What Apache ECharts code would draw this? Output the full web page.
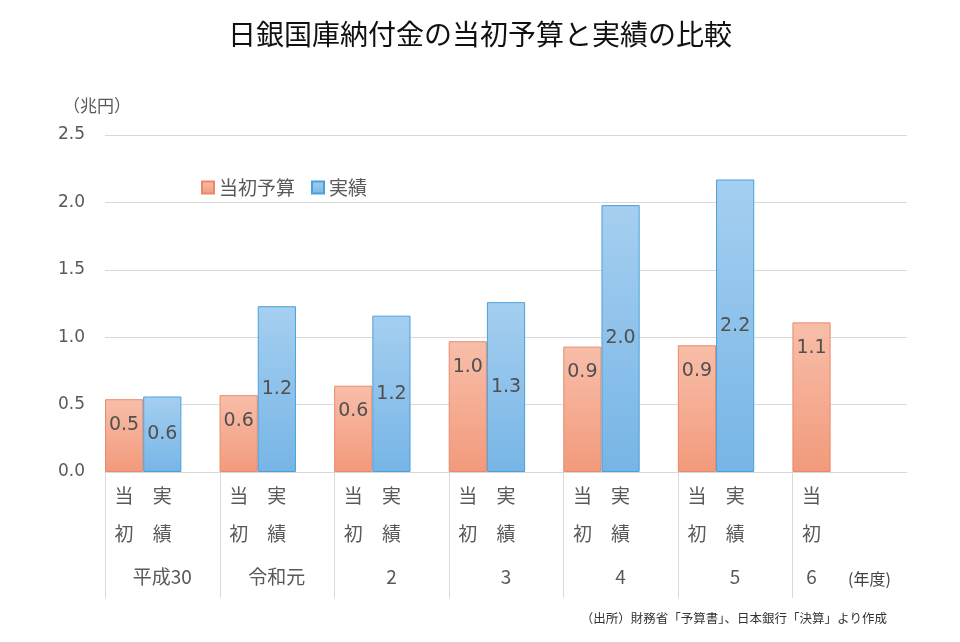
<!DOCTYPE html>
<html><head><meta charset="utf-8">
<script src="https://cdn.jsdelivr.net/npm/echarts@6/dist/echarts.min.js"></script>
<style>html,body{margin:0;padding:0;background:#fff}#c{width:960px;height:642px}</style>
</head><body><div id="c"></div>
<script>
// ---- data ----
const years = ['平成30', '令和元', '2', '3', '4', '5', '6'];
const budget = [0.54, 0.57, 0.64, 0.97, 0.93, 0.94, 1.11];   // 当初予算 (兆円)
const actual = [0.56, 1.23, 1.16, 1.26, 1.98, 2.17, null];   // 実績 (兆円)
const seriesNames = ['当初予算', '実績'];
const budgetLabel = ['当', '初'];
const actualLabel = ['実', '績'];
const yMin = 0, yMax = 2.5, yStep = 0.5;

// ---- build 3 slots per fiscal year (budget, actual, gap) ----
const slotNames = [], slotLabels = [], budgetSlots = [], actualSlots = [], groupStarts = [];
years.forEach((y, i) => {
  const hasA = actual[i] != null;
  groupStarts.push([i * 3]);
  slotNames.push(i + '-b', i + '-a', i + '-g');
  slotLabels.push('{a|' + budgetLabel[0] + '}\n{a|' + budgetLabel[1] + '}' + (hasA ? '' : '\n{b|' + y + '}'));
  slotLabels.push(hasA ? '{a|' + actualLabel[0] + '}\n{a|' + actualLabel[1] + '}\n{b|' + y + '}' : '');
  slotLabels.push('');
  budgetSlots.push(budget[i], '-', '-');
  actualSlots.push('-', hasA ? actual[i] : '-', '-');
});

const FONT_CJK = '"Noto Sans CJK JP", sans-serif';
const FONT_NUM = '"DejaVu Sans", sans-serif';

const grad = (top, bottom) => new echarts.graphic.LinearGradient(0, 0, 0, 1, [
  { offset: 0, color: top }, { offset: 1, color: bottom }
]);

const chart = echarts.init(document.getElementById('c'), null, { renderer: 'canvas' });
chart.setOption({
  backgroundColor: '#fff',
  animation: false,
  title: [
    { text: '日銀国庫納付金の当初予算と実績の比較', left: 'center', top: 15,
      textStyle: { fontFamily: FONT_CJK, fontSize: 28, fontWeight: 'normal', color: '#111' } },
    { text: '（兆円）', left: 58, top: 92,
      textStyle: { fontFamily: FONT_CJK, fontSize: 17, fontWeight: 'normal', color: '#595959' } },
    { text: '(年度)', left: 843, top: 566,
      textStyle: { fontFamily: FONT_CJK, fontSize: 16, fontWeight: 'normal', color: '#404040' } },
    { text: '（出所）財務省「予算書」、日本銀行「決算」より作成', right: 68, top: 607,
      textStyle: { fontFamily: FONT_CJK, fontSize: 12.5, fontWeight: 'normal', color: '#333' } }
  ],
  legend: {
    left: 196, top: 173, itemWidth: 12, itemHeight: 12, itemGap: 16, icon: 'rect',
    data: seriesNames,
    textStyle: { fontFamily: FONT_CJK, fontSize: 19, color: '#595959' }
  },
  grid: { left: 105, right: 53, top: 135, bottom: 170 },
  xAxis: {
    type: 'category',
    data: slotNames,
    axisLine: { show: true, lineStyle: { color: '#d9d9d9', width: 1 } },
    axisTick: { show: false },
    axisLabel: {
      interval: 0, margin: 5,
      formatter: (v, i) => slotLabels[i],
      rich: {
        a: { fontFamily: FONT_CJK, fontSize: 19, lineHeight: 38, color: '#595959' },
        b: { fontFamily: FONT_CJK, fontSize: 19, lineHeight: 48, color: '#595959' }
      }
    },
    splitLine: { show: false }
  },
  yAxis: {
    type: 'value', min: yMin, max: yMax, interval: yStep,
    axisLine: { show: false }, axisTick: { show: false },
    axisLabel: { margin: 20, formatter: (v) => v.toFixed(1),
      fontFamily: FONT_NUM, fontSize: 17, color: '#595959' },
    splitLine: { lineStyle: { color: '#d9d9d9', width: 1 } }
  },
  series: [
    {
      name: seriesNames[0], type: 'bar', data: budgetSlots,
      barCategoryGap: '0%', barGap: '-100%',
      itemStyle: { color: grad('#f8bea9', '#f29a7b'), borderColor: '#e9896a', borderWidth: 1 },
      label: { show: true, position: 'insideTop', distance: 16,
        formatter: (p) => p.value.toFixed(1),
        fontFamily: FONT_NUM, fontSize: 19, color: '#505050' }
    },
    {
      name: seriesNames[1], type: 'bar', data: actualSlots,
      barCategoryGap: '0%', barGap: '-100%',
      itemStyle: { color: grad('#a5cff0', '#77b5e6'), borderColor: '#4aa1da', borderWidth: 1 },
      label: { show: true, position: 'inside',
        formatter: (p) => p.value.toFixed(1),
        fontFamily: FONT_NUM, fontSize: 19, color: '#505050' }
    },
    {
      // group separators below the axis, at each fiscal-year boundary
      name: 'sep', type: 'custom', data: groupStarts, silent: true, clip: false, z: 1,
      renderItem: (params, api) => {
        const p = api.coord([api.value(0), 0]);
        const w = api.size([1, 0])[0];
        const x = Math.round(p[0] - w / 2) + 0.5;
        return { type: 'line', shape: { x1: x, y1: p[1], x2: x, y2: p[1] + 126 },
          style: { stroke: '#d9d9d9', lineWidth: 1 } };
      }
    }
  ]
});
</script></body></html>
